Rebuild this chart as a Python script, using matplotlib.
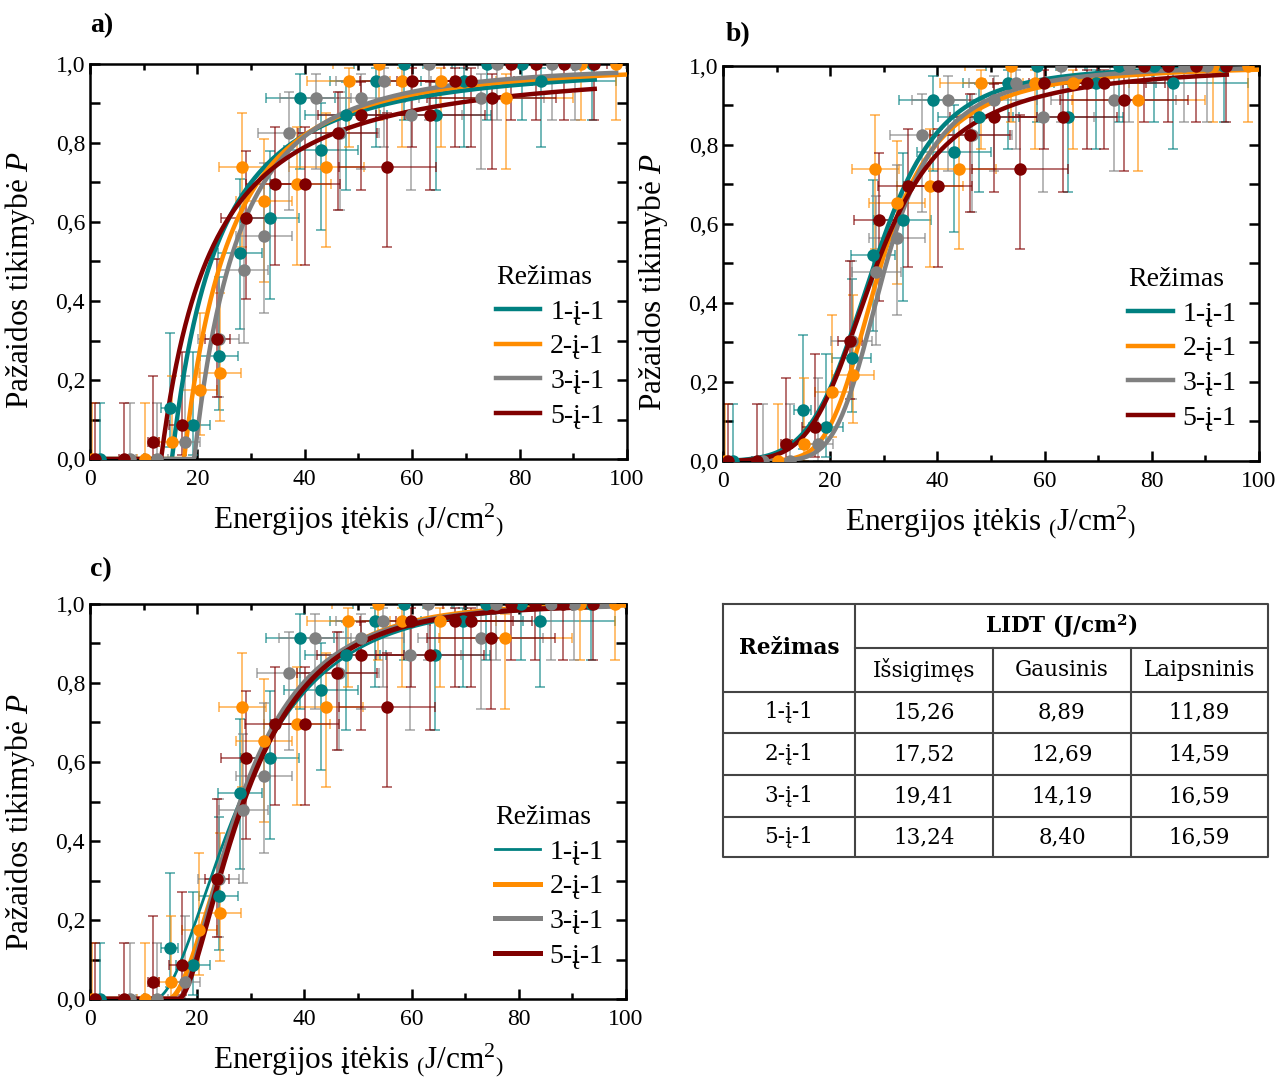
import numpy as np
import matplotlib
matplotlib.use("Agg")
import matplotlib.pyplot as plt
from matplotlib.ticker import MultipleLocator, FuncFormatter

plt.rcParams['font.family'] = ['Liberation Serif', 'DejaVu Serif']
plt.rcParams['mathtext.fontset'] = 'custom'
plt.rcParams['mathtext.rm'] = 'Liberation Serif'
plt.rcParams['mathtext.it'] = 'Liberation Serif:italic'

# --- matavimu duomenys (tie patys visuose trijuose grafikuose) ---
rezimai = ['1-į-1', '2-į-1', '3-į-1', '5-į-1']
spalvos = ['#008080', '#ff8c00', '#808080', '#800000']

x_1 = [1.8, 14.9, 19.2, 24.0, 28.0, 33.5, 39.2, 43.1, 47.7, 53.2, 58.5, 64.4, 69.6, 73.9, 80.4, 84.0, 93.5]
y_1 = [0, 0.130, 0.087, 0.261, 0.522, 0.609, 0.913, 0.783, 0.870, 0.957, 1, 0.870, 0.957, 1, 1, 0.957, 1]
xe_1 = [0.3, 1.6, 3.2, 3.6, 4.1, 5.4, 6.4, 6.9, 7.6, 8.5, 9.4, 10.3, 11.1, 11.8, 12.9, 14.0, 15.0]
ylo_1 = [0, 0.03, 0.01, 0.125, 0.33, 0.406, 0.735, 0.58, 0.68, 0.79, 0.857, 0.68, 0.79, 0.857, 0.857, 0.79, 0.857]
yhi_1 = [0.143, 0.32, 0.27, 0.46, 0.71, 0.78, 0.975, 0.90, 0.955, 0.99, 1, 0.955, 0.99, 1, 1, 0.99, 1]

x_2 = [0.4, 10.3, 15.2, 20.4, 24.2, 28.4, 32.4, 38.6, 44.0, 48.2, 53.8, 58.2, 65.3, 77.5, 91.4, 98.0]
y_2 = [0, 0, 0.043, 0.174, 0.217, 0.739, 0.652, 0.696, 0.739, 0.957, 1, 0.957, 0.957, 0.913, 1, 1]
xe_2 = [0.1, 1.6, 2.4, 3.3, 3.9, 4.4, 5.2, 6.2, 7.0, 7.7, 8.6, 9.3, 10.4, 12.4, 14.6, 15.7]
ylo_2 = [0, 0, 0, 0.06, 0.097, 0.537, 0.449, 0.49, 0.537, 0.79, 0.857, 0.79, 0.79, 0.735, 0.857, 0.857]
yhi_2 = [0.143, 0.143, 0.21, 0.37, 0.42, 0.875, 0.81, 0.84, 0.875, 0.99, 1, 0.99, 0.99, 0.975, 1, 1]

x_3 = [7.4, 12.5, 17.7, 24.0, 28.6, 32.4, 37.1, 42.0, 46.5, 50.5, 54.7, 59.7, 63.1, 72.9, 75.8, 86.0, 90.3]
y_3 = [0, 0, 0.043, 0.304, 0.478, 0.565, 0.826, 0.913, 0.826, 0.913, 0.957, 0.870, 1, 0.913, 1, 1, 1]
xe_3 = [1.2, 2.0, 2.8, 3.8, 4.6, 5.2, 5.9, 6.7, 7.4, 8.1, 8.8, 9.6, 10.1, 11.7, 12.1, 13.8, 14.4]
ylo_3 = [0, 0, 0, 0.156, 0.293, 0.37, 0.63, 0.735, 0.63, 0.735, 0.79, 0.68, 0.857, 0.735, 0.857, 0.857, 0.857]
yhi_3 = [0.143, 0.143, 0.21, 0.507, 0.67, 0.75, 0.93, 0.975, 0.93, 0.975, 0.99, 0.955, 1, 0.975, 1, 1, 1]

x_5 = [1.0, 6.4, 11.8, 17.2, 23.7, 29.1, 34.5, 40.1, 46.1, 50.5, 55.4, 59.9, 63.4, 68.0, 71.0, 74.8, 78.5, 83.0, 88.2, 93.8]
y_5 = [0, 0, 0.043, 0.087, 0.304, 0.609, 0.696, 0.696, 0.826, 0.870, 0.739, 0.957, 0.870, 0.957, 0.957, 0.913, 1, 1, 1, 1]
xe_5 = [0.2, 1.0, 1.0, 2.5, 2.3, 4.7, 5.5, 6.4, 7.4, 8.1, 9.0, 9.6, 10.1, 10.9, 11.4, 12.0, 12.6, 13.3, 14.1, 15.0]
ylo_5 = [0, 0, 0, 0.01, 0.156, 0.406, 0.49, 0.49, 0.63, 0.68, 0.537, 0.79, 0.68, 0.79, 0.79, 0.735, 0.857, 0.857, 0.857, 0.857]
yhi_5 = [0.143, 0.143, 0.21, 0.27, 0.507, 0.78, 0.84, 0.84, 0.93, 0.955, 0.875, 0.99, 0.955, 0.99, 0.99, 0.975, 1, 1, 1, 1]

duomenys = [(x_1, y_1, xe_1, ylo_1, yhi_1), (x_2, y_2, xe_2, ylo_2, yhi_2),
            (x_3, y_3, xe_3, ylo_3, yhi_3), (x_5, y_5, xe_5, ylo_5, yhi_5)]

# --- modeliu parametrai ---
# a) issigimes: N = A*ln(F/F0)
a_F0 = [15.26, 17.52, 19.41, 13.24]
a_A = [1.78, 2.08, 2.35, 1.41]
# b) Gausinis defektu slenksciu skirstinys: D, mu, sigma
b_D = [4.0, 3.3, 3.8, 2.7]
b_mu = [27.0, 25.0, 26.5, 24.0]
b_sig = [7.8, 5.3, 5.3, 6.7]
# c) laipsninis: N = A*ln(F/F0)^beta
c_F0 = [11.89, 14.59, 16.59, 16.59]
c_A = [0.98, 1.55, 2.0, 1.93]
c_beta = [2.2, 2.0, 1.65, 1.7]
kreives_galas = [94, 99.7, 98, 94]

# --- lentele ---
lent_stulp = ['Išsigimęs', 'Gausinis', 'Laipsninis']
lent_issig = ['15,26', '17,52', '19,41', '13,24']
lent_gaus = ['8,89', '12,69', '14,19', '8,40']
lent_laips = ['11,89', '14,59', '16,59', '16,59']


def modelis_ln(F, F0, A, beta):
    L = np.log(np.clip(F / F0, 1, None))
    return 1 - np.exp(-A * L ** beta)


def modelis_gaus(F, D, mu, sig):
    T = np.linspace(max(mu - 5 * sig, 0.1), mu + 5 * sig, 600)
    w = np.exp(-0.5 * ((T - mu) / sig) ** 2)
    w /= w.sum()
    N = D * (w[None, :] * np.log(np.clip(F[:, None] / T[None, :], 1, None))).sum(1)
    return 1 - np.exp(-N)


def kablelis(v, pos):
    return ('%.1f' % v).replace('.', ',')


def paruosti_asis(ax, raide, raides_x, raides_y, ylab_y):
    ax.set_xlim(0, 100)
    ax.set_ylim(0, 1)
    ax.xaxis.set_major_locator(MultipleLocator(20))
    ax.xaxis.set_minor_locator(MultipleLocator(10))
    ax.yaxis.set_major_locator(MultipleLocator(0.2))
    ax.yaxis.set_minor_locator(MultipleLocator(0.1))
    ax.yaxis.set_major_formatter(FuncFormatter(kablelis))
    ax.tick_params(which='both', direction='in', top=True, right=True, width=1.8, labelsize=17)
    ax.tick_params(which='major', length=7)
    ax.tick_params(axis='x', which='minor', length=4)
    ax.tick_params(axis='y', which='minor', length=7)
    ax.tick_params(axis='x', pad=7)
    for s in ax.spines.values():
        s.set_linewidth(1.8)
    ax.set_xlabel(r'Energijos įtėkis $\mathregular{_(}$J/cm$\mathregular{^2}$$\mathregular{_)}$',
                  fontsize=22.5, labelpad=8)
    ax.set_ylabel('Pažaidos tikimybė $P$', fontsize=22.5)
    ax.yaxis.set_label_coords(-0.098, ylab_y)
    ax.text(raides_x, raides_y, raide, transform=ax.transAxes, fontsize=20, fontweight='bold',
            ha='left', va='bottom')


def taskai(ax):
    for (x, y, xe, ylo, yhi), c in zip(duomenys, spalvos):
        x = np.array(x); y = np.array(y)
        yerr = [y - np.array(ylo), np.array(yhi) - y]
        ax.errorbar(x, y, xerr=xe, yerr=yerr, fmt='none', ecolor=c, alpha=0.6,
                    elinewidth=1.3, capsize=3.5, capthick=1.3, zorder=2)
        ax.plot(x, y, 'o', color=c, markersize=9, markeredgewidth=0, zorder=4)


fig = plt.figure(figsize=(12.8, 10.77), dpi=100)
ax_a = fig.add_axes([0.0703, 0.5738, 0.4195, 0.3668])
ax_b = fig.add_axes([0.5648, 0.5720, 0.4188, 0.3668])
ax_c = fig.add_axes([0.0703, 0.0724, 0.4188, 0.3668])

paruosti_asis(ax_a, 'a)', 0.0, 1.065, 0.453)
paruosti_asis(ax_b, 'b)', 0.005, 1.048, 0.453)
paruosti_asis(ax_c, 'c)', 0.0, 1.055, 0.448)
for ax in [ax_a, ax_b, ax_c]:
    taskai(ax)

for i in range(4):
    F = np.linspace(0.3, kreives_galas[i], 500)
    ax_a.plot(F, modelis_ln(F, a_F0[i], a_A[i], 1.0), color=spalvos[i], lw=3.2,
              label=rezimai[i], zorder=3)
    ax_b.plot(F, modelis_gaus(F, b_D[i], b_mu[i], b_sig[i]), color=spalvos[i], lw=3.2,
              label=rezimai[i], zorder=3)
    ax_c.plot(F, modelis_ln(F, c_F0[i], c_A[i], c_beta[i]), color=spalvos[i],
              lw=2.0 if i == 0 else 3.6, label=rezimai[i], zorder=3)

for ax in [ax_a, ax_b, ax_c]:
    leg = ax.legend(title='Režimas', loc='upper left', bbox_to_anchor=(0.72, 0.54),
                    frameon=False, fontsize=20, title_fontsize=20, handlelength=1.6,
                    handletextpad=0.35, labelspacing=0.33, borderpad=0.2)
    leg._legend_box.align = 'left'

# lentele
ax_t = fig.add_axes([0.5648, 0.2043, 0.4258, 0.2349])
ax_t.set_xlim(0, 545)
ax_t.set_ylim(253, 0)
ax_t.axis('off')
kol = [0, 132, 270, 408, 545]
eil = [0, 44, 88, 129, 171, 213, 253]
lc = '#444444'
lw = 1.5
ax_t.plot([0, 545, 545, 0, 0], [0, 0, 253, 253, 0], color=lc, lw=lw, clip_on=False)
ax_t.plot([132, 132], [0, 253], color=lc, lw=lw)
for xk in kol[2:4]:
    ax_t.plot([xk, xk], [44, 253], color=lc, lw=lw)
ax_t.plot([132, 545], [44, 44], color=lc, lw=lw)
for yk in eil[2:6]:
    ax_t.plot([0, 545], [yk, yk], color=lc, lw=lw)

tf = dict(family='DejaVu Serif', fontsize=15.5, ha='center', va='center')
ax_t.text(66, 44, 'Režimas', fontweight='bold', **tf)
ax_t.text((132 + 545) / 2, 22, 'LIDT (J/cm$^\\mathregular{2}$)', fontweight='bold', **tf)
for j, s in enumerate(lent_stulp):
    ax_t.text((kol[j + 1] + kol[j + 2]) / 2, 66, s, **tf)
for i in range(4):
    yc = (eil[i + 2] + eil[i + 3]) / 2
    ax_t.text(66, yc, rezimai[i], **tf)
    for j, col in enumerate([lent_issig, lent_gaus, lent_laips]):
        ax_t.text((kol[j + 1] + kol[j + 2]) / 2, yc, col[i], **tf)

fig.savefig('out.png', dpi=100)
